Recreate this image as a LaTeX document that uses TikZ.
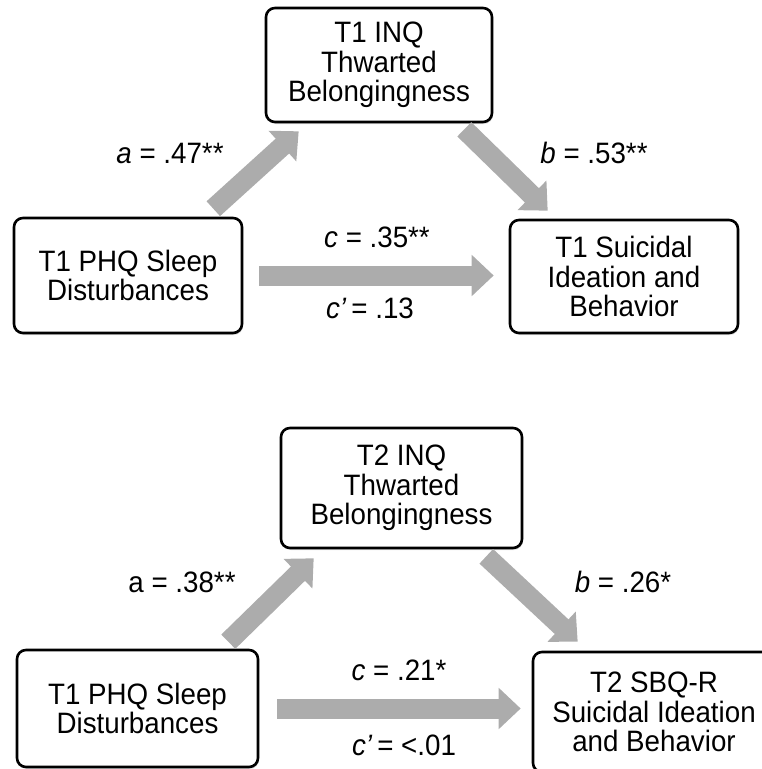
\documentclass[tikz,border=0pt]{standalone}
\usepackage{fontspec}
\setmainfont[FakeStretch=0.94]{Liberation Sans}
\usepackage{xcolor}
\usetikzlibrary{arrows.meta, positioning, shadows}
\definecolor{arrowgray}{RGB}{172,172,172}

\begin{document}
\begin{tikzpicture}[
    x = 1pt, y = -1pt,
    font = \fontsize{29.5}{29.5}\selectfont,
    box/.style = {
        draw, line width=2.6pt, rounded corners=9pt, fill=white,
        align=center, inner sep=0pt,
        drop shadow={opacity=0.25, shadow xshift=1pt, shadow yshift=-2pt}
    },
    fat/.style = {
        draw=arrowgray, line width=20pt,
        -{Triangle[length=22pt, width=40pt]}
    }
  ]
    \useasboundingbox (0,0) rectangle (762,769);

    % 上图 (T1)
    \node[box, minimum width=226pt, minimum height=114pt] (inq1) at (379,65) {T1 INQ\\Thwarted\\Belongingness};  % 中介
    \node[box, minimum width=228pt, minimum height=115pt] (phq1) at (128,275.5) {T1 PHQ Sleep\\Disturbances};  % 自变量
    \node[box, minimum width=228pt, minimum height=113pt] (sib1) at (624,276.5) {T1 Suicidal\\Ideation and\\Behavior};  % 因变量

    \draw[fat] ([xshift=-30pt, yshift=8pt]phq1.north east) -- ([xshift=34pt, yshift=-8pt]inq1.south west);  % a
    \draw[fat] ([xshift=-29pt, yshift=-6pt]inq1.south east) -- ([xshift=39pt, yshift=8pt]sib1.north west);  % b
    \draw[fat] ([xshift=16pt]phq1.east) -- ([xshift=-15pt]phq1.east -| sib1.west);  % c

    \node (pa1) at (170,153) {\textit{a} = .47**};
    \node (pb1) at (594,153) {\textit{b} = .53**};
    \node (pc1) at (377,237) {\textit{c} = .35**};
    \node (pd1) at (370,308) {\textit{c’}\,= .13};

    % 下图 (T2)
    \node[box, minimum width=241pt, minimum height=120pt] (inq2) at (401.5,488) {T2 INQ\\Thwarted\\Belongingness};  % 中介
    \node[box, minimum width=241pt, minimum height=117pt] (phq2) at (137.5,708.5) {T1 PHQ Sleep\\Disturbances};  % 自变量
    \node[box, minimum width=242pt, minimum height=120pt] (sbq2) at (654,712) {T2 SBQ-R\\Suicidal Ideation\\and Behavior};  % 因变量(右边被裁掉)

    \draw[fat] ([xshift=-31pt, yshift=7pt]phq2.north east) -- ([xshift=34pt, yshift=-9pt]inq2.south west);  % a
    \draw[fat] ([xshift=-37pt, yshift=-7pt]inq2.south east) -- ([xshift=46pt, yshift=9pt]sbq2.north west);  % b
    \draw[fat] ([xshift=18pt]phq2.east) -- ([xshift=-11pt]phq2.east -| sbq2.west);  % c

    \node (pa2) at (182,582) {a = .38**};
    \node (pb2) at (623,582) {\textit{b} = .26*};
    \node (pc2) at (399,670) {\textit{c} = .21*};
    \node (pd2) at (404,745) {\textit{c’}\,= <.01};
\end{tikzpicture}
\end{document}
